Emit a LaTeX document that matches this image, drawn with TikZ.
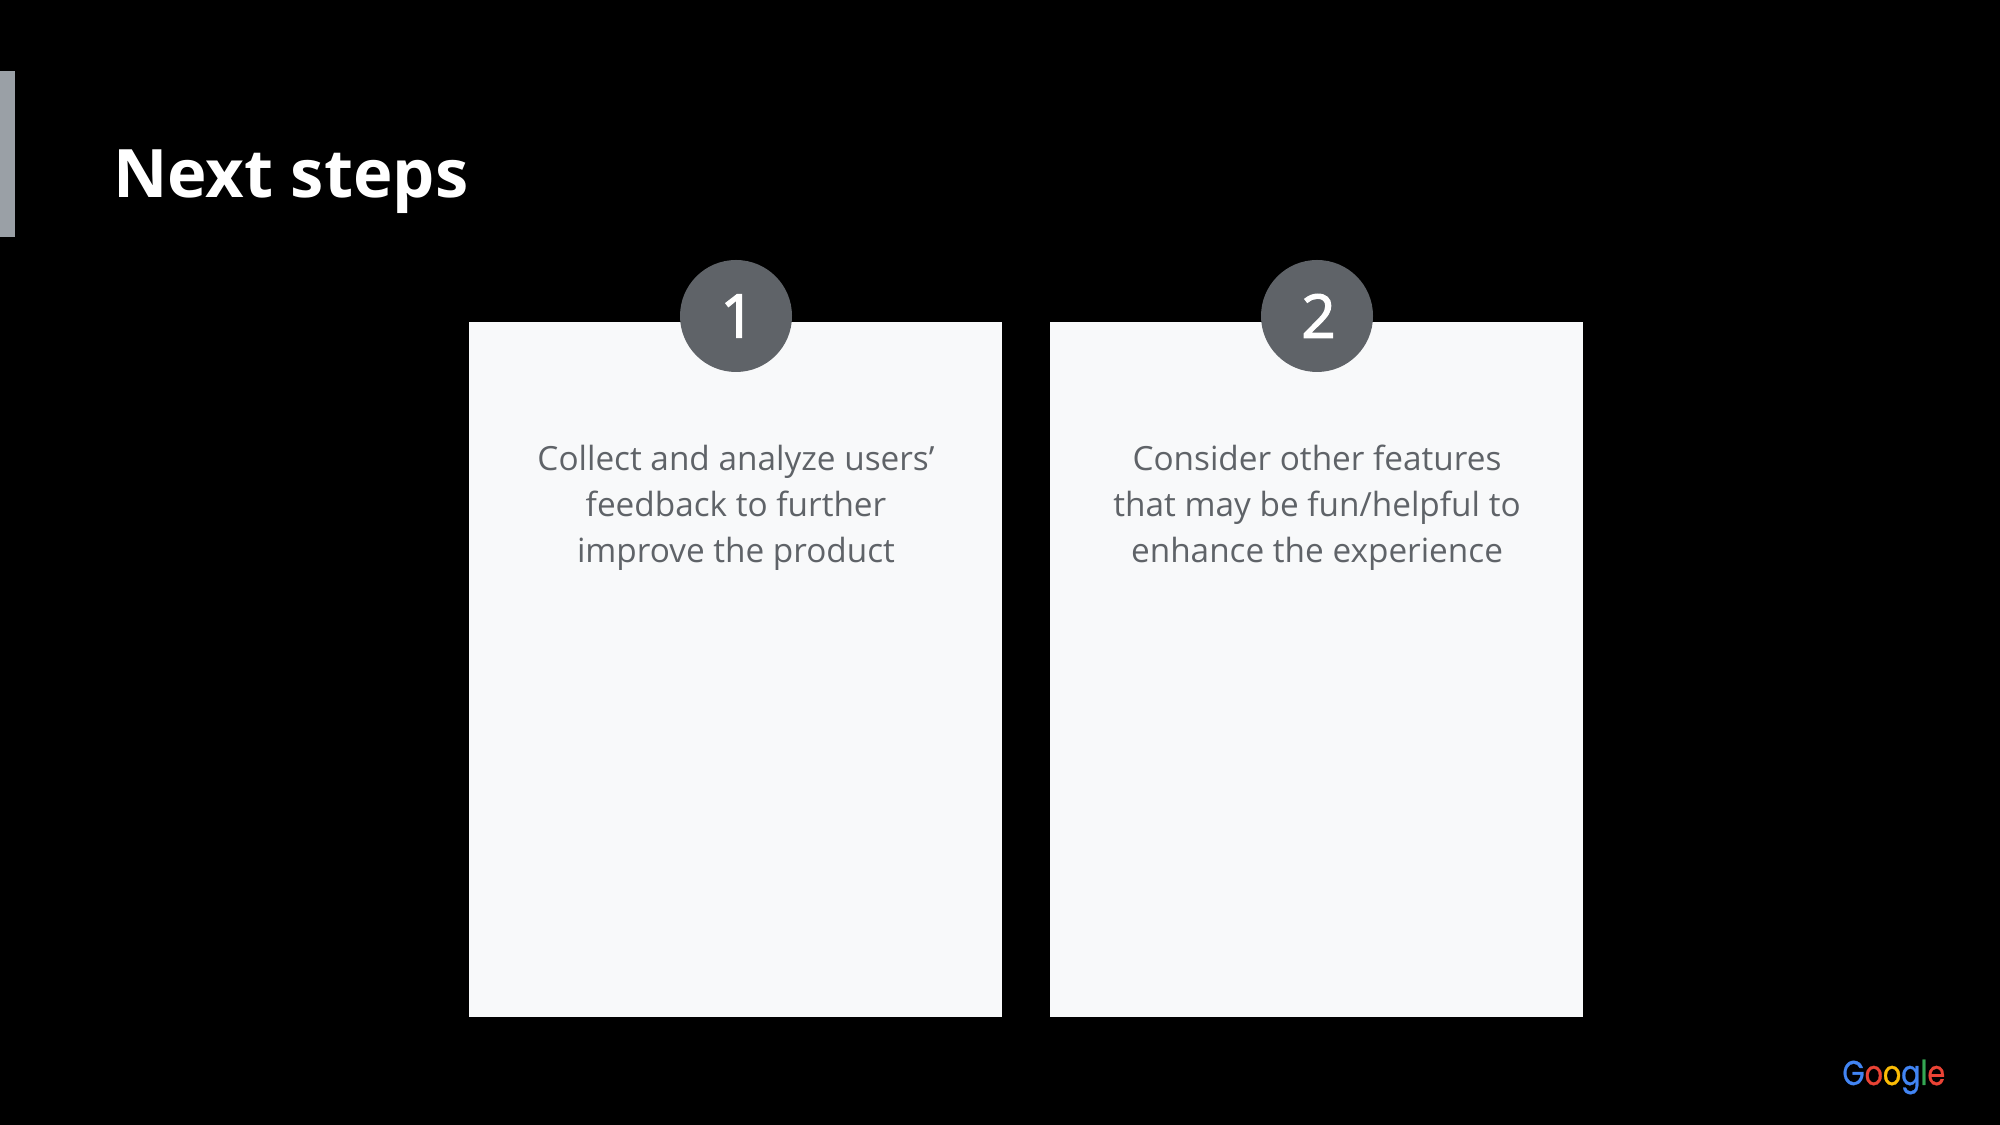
\documentclass[tikz,border=0pt]{standalone}
\usepackage{fontspec}
\setmainfont{Open Sans}
\newfontfamily\logofont[FakeBold=1]{Poppins}
\newfontfamily\numfont[FakeBold=2]{Open Sans}
\definecolor{barcol}{HTML}{9AA0A6}
\definecolor{cardcol}{HTML}{F8F9FA}
\definecolor{darkcol}{HTML}{5F6368}
\definecolor{gblue}{HTML}{4285F4}
\definecolor{gred}{HTML}{EA4335}
\definecolor{gyellow}{HTML}{FBBC05}
\definecolor{ggreen}{HTML}{34A853}
\tikzset{
  card/.style={fill=cardcol,inner sep=0pt,minimum width=5.33*48pt,minimum height=6.95*48pt},
  badge/.style={circle,fill=darkcol,text=white,inner sep=0pt,minimum size=1.12*48pt,execute at begin node=\hspace{1.5pt},font=\numfont\fontsize{29}{29}\selectfont},
  cardtext/.style={text=darkcol,align=center,font=\fontsize{16}{22}\selectfont}
}
\begin{document}
\begin{tikzpicture}[x=48pt,y=48pt]
    \fill[black] (0,0) rectangle (20,11.25);
    \useasboundingbox (0,0) rectangle (20,11.25);
    \node[fill=barcol,inner sep=0pt,minimum width=.15*48pt,minimum height=1.66*48pt] (bar) at (.075,9.71) {};

    \node[anchor=base west,inner sep=0pt,text=white,font=\fontsize{32.1}{32}\selectfont\bfseries] (title) at (1.13,9.27) {Next steps};

    \node[card] (card1) at (7.355,4.557) {};
    \node[card] (card2) at (13.165,4.557) {};

    \node[badge] (num1) at (7.36,8.09) {1};
    \node[badge] (num2) at (13.17,8.09) {2};

    \node[cardtext] (text1) at (7.36,6.172) {Collect and analyze users’\\feedback to further\\improve the product};
    \node[cardtext] (text2) at (13.17,6.172) {Consider other features\\that may be fun/helpful to\\enhance the experience};

    \node[anchor=base east,inner sep=0pt,xscale=.83,font=\logofont\fontsize{16.5}{16.5}\selectfont] (logo) at (19.455,.4) {\textcolor{gblue}{G}\textcolor{gred}{o}\textcolor{gyellow}{o}\textcolor{gblue}{g}\textcolor{ggreen}{l}\textcolor{gred}{e}};
\end{tikzpicture}
\end{document}
